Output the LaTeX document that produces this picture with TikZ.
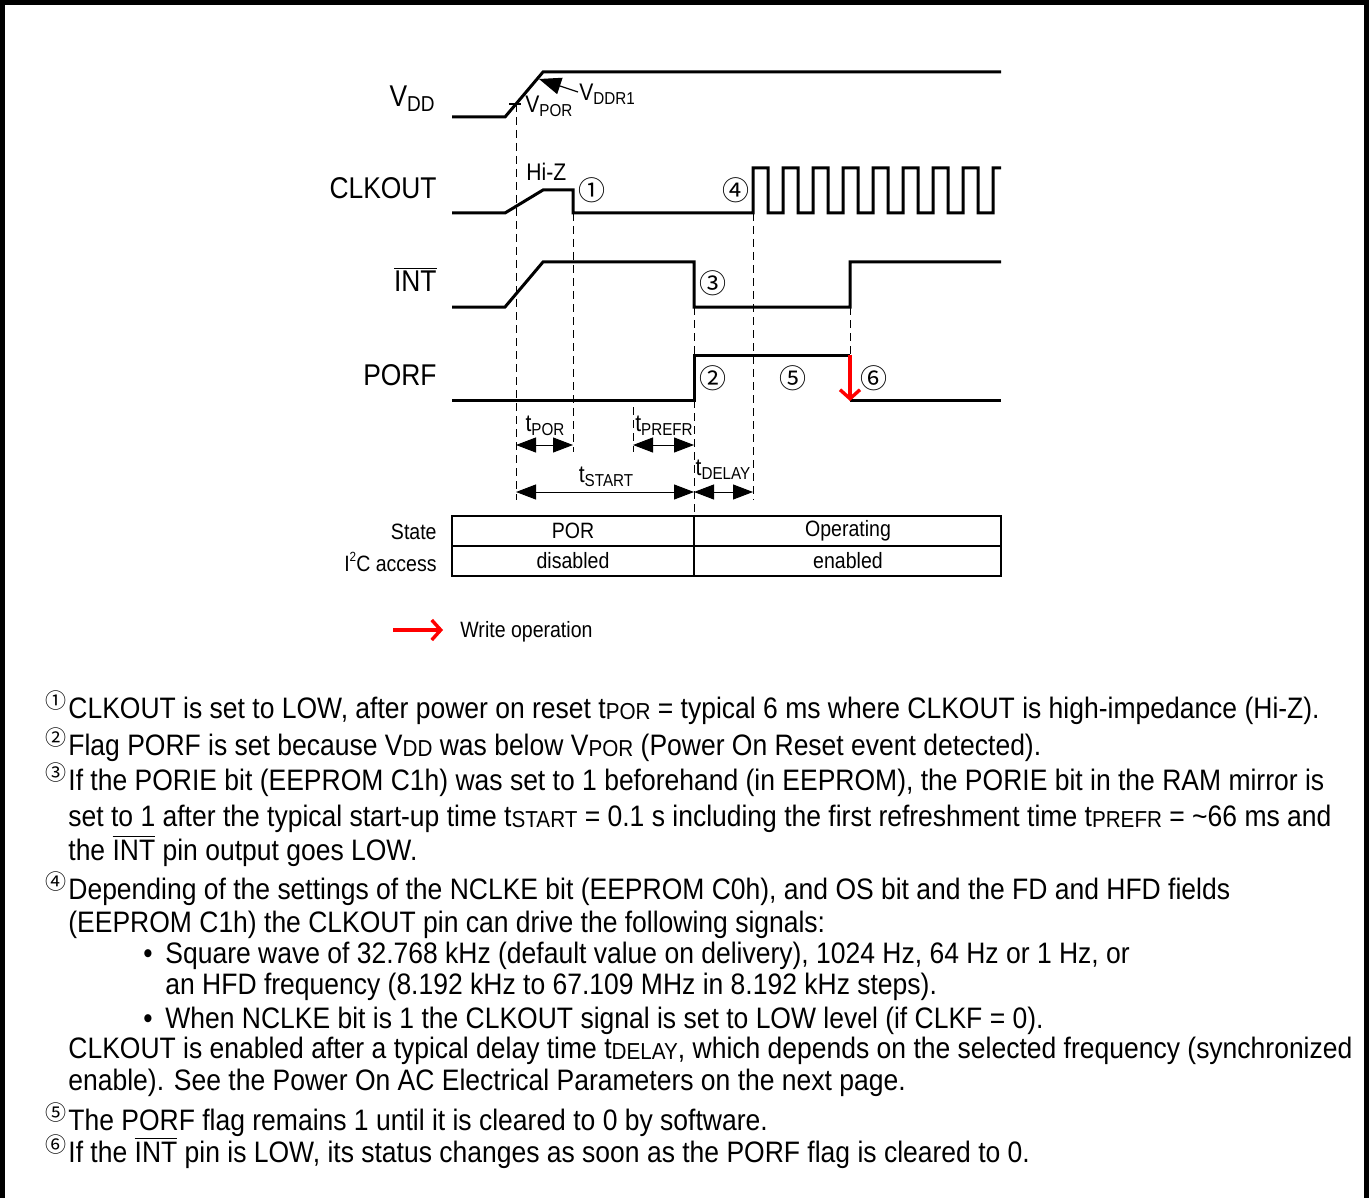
\documentclass[tikz,border=0pt]{standalone}
\usepackage{fontspec}
\setmainfont[FakeStretch=0.88]{Liberation Sans}
\newfontfamily\notefont[FakeStretch=0.895]{Liberation Sans}
\newfontfamily\circfont{Noto Sans CJK JP}
\usetikzlibrary{arrows.meta}
\newcommand\lsub[1]{\raisebox{-0.3ex}{\scalebox{0.72}{#1}}}
\newcommand\nsub[1]{\raisebox{-0.1ex}{\scalebox{0.78}{#1}}}
\newcommand\ovl[1]{$\overline{\mbox{#1}}$}
\tikzset{
  sig/.style={line width=1.5pt, line join=miter},
  dsh/.style={line width=0.5pt, dash pattern=on 4pt off 2.5pt},
  tarr/.style={line width=0.5pt, {Triangle[length=10pt,width=7.5pt]}-{Triangle[length=10pt,width=7.5pt]}},
  redarr/.style={red, line width=1.7pt, -{Straight Barb[length=4.5pt,width=10pt,line width=1.7pt]}},
  lbl/.style={inner sep=0pt, font=\fontsize{15}{18}\selectfont},
  smallt/.style={inner sep=0pt, font=\fontsize{12}{14}\selectfont},
  tbltxt/.style={inner sep=0pt, font=\fontsize{11.1}{13}\selectfont},
  cnum/.style={inner sep=0pt, font=\circfont\fontsize{13.5}{13.5}\selectfont},
  ncnum/.style={inner sep=0pt, font=\circfont\fontsize{10.5}{10.5}\selectfont},
  note/.style={inner sep=0pt, anchor=base west, font=\notefont\fontsize{14.8}{17}\selectfont},
}
\begin{document}
\begin{tikzpicture}[x=0.5pt,y=-0.5pt]
\useasboundingbox (0,0) rectangle (1370,1198);
% frame
\draw[line width=2.5pt] (2.5,1198) -- (2.5,2.5) -- (1366.5,2.5) -- (1366.5,1198);
% signal labels
\node[lbl, anchor=base east] (lvdd) at (435,107) {V\lsub{DD}};
\node[lbl, anchor=base east] (lclk) at (437,199) {CLKOUT};
\node[lbl, anchor=base east] (lint) at (437,292) {\ovl{INT}};
\node[lbl, anchor=base east] (lporf) at (437,385) {PORF};
% VDD
\draw[sig] (452,117) -- (505,117) -- (543,72) -- (1001,72);
\draw[line width=0.6pt] (509,104) -- (521,104);
\node[smallt, anchor=base west] (vpor) at (525,113) {V\lsub{POR}};
\node[smallt, anchor=base west] (vddr) at (579,101) {V\lsub{DDR1}};
\coordinate (vtip) at (539,79);
\draw[line width=0.6pt, -{Triangle[length=11pt,width=8.5pt]}] (578,92) -- (vtip);
% CLKOUT
\draw[sig] (452,213) -- (505,213) -- (543,190) -- (573,190) -- (573,213) -- (753,213)
  \foreach \i in {0,...,7} { -- ({753+30*\i},168) -- ({768+30*\i},168) -- ({768+30*\i},213) -- ({783+30*\i},213) }
  -- (993,168) -- (1001,168);
\node[smallt, anchor=base west] (hiz) at (526,181) {Hi-Z};
% INT
\draw[sig] (452,307) -- (505,307) -- (543,262) -- (694,262) -- (694,307) -- (850,307) -- (850,262) -- (1001,262);
% PORF
\draw[sig] (452,400) -- (694,400) -- (694,355) -- (850,355);
\draw[sig] (850,400) -- (1001,400);
\coordinate (pa) at (850,355);
\coordinate (pb) at (850,401);
\draw[redarr] (pa) -- (pb);
% dashed lines
\draw[dsh] (516,104) -- (516,500);
\draw[dsh] (573,213) -- (573,452);
\draw[dsh] (633,407) -- (633,452);
\draw[dsh] (694,307) -- (694,355);
\draw[dsh] (694,400) -- (694,516);
\draw[dsh] (753,213) -- (753,500);
\draw[dsh] (850,307) -- (850,355);
% circled numbers
\node[cnum] (c1) at (592,190) {①};
\node[cnum] (c4) at (736,190) {④};
\node[cnum] (c3) at (713,283) {③};
\node[cnum] (c2) at (713,378) {②};
\node[cnum] (c5) at (793,378) {⑤};
\node[cnum] (c6) at (874,378) {⑥};
% timing
\coordinate (a1) at (516,445); \coordinate (a2) at (573,445);
\coordinate (a3) at (633,445); \coordinate (a4) at (694,445);
\coordinate (b1) at (516,492); \coordinate (b2) at (694,492); \coordinate (b3) at (753,492);
\draw[tarr] (a1) -- (a2);
\draw[tarr] (a3) -- (a4);
\draw[tarr] (b1) -- (b2);
\draw[tarr] (b2) -- (b3);
\node[smallt] (ttpor) at (545,426) {t\lsub{POR}};
\node[smallt] (ttprefr) at (664,426) {t\lsub{PREFR}};
\node[smallt] (ttstart) at (606,477) {t\lsub{START}};
\node[smallt] (ttdelay) at (723,470) {t\lsub{DELAY}};
% table
\draw[line width=0.6pt] (452,516) rectangle (1001,576);
\draw[line width=0.6pt] (452,546) -- (1001,546);
\draw[line width=0.6pt] (694,516) -- (694,576);
\node[tbltxt, anchor=east] (tstate) at (437,532) {State};
\node[tbltxt, anchor=east] (ti2c) at (437,562) {I\raisebox{0.8ex}{\scalebox{0.6}{2}}C access};
\node[tbltxt] (tpor) at (573,531) {POR};
\node[tbltxt] (tdis) at (573,561) {disabled};
\node[tbltxt] (top) at (848,531) {Operating};
\node[tbltxt] (ten) at (848,561) {enabled};
% legend
\coordinate (l1) at (393,630); \coordinate (l2) at (443,630);
\draw[redarr] (l1) -- (l2);
\node[tbltxt, anchor=base west] (wop) at (460,637) {Write operation};
% notes
\node[ncnum] (n1) at (56,701) {①};
\node[note] (t1) at (68,718) {CLKOUT is set to LOW, after power on reset t\nsub{POR} = typical 6 ms where CLKOUT is high-impedance (Hi-Z).};
\node[ncnum] (n2) at (56,738) {②};
\node[note] (t2) at (68,755) {Flag PORF is set because V\nsub{DD} was below V\nsub{POR} (Power On Reset event detected).};
\node[ncnum] (n3) at (56,773) {③};
\node[note] (t3a) at (68,790) {If the PORIE bit (EEPROM C1h) was set to 1 beforehand (in EEPROM), the PORIE bit in the RAM mirror is};
\node[note] (t3b) at (68,826) {set to 1 after the typical start-up time t\nsub{START} = 0.1 s including the first refreshment time t\nsub{PREFR} = \textasciitilde 66 ms and};
\node[note] (t3c) at (68,860) {the \ovl{INT} pin output goes LOW.};
\node[ncnum] (n4) at (56,882) {④};
\node[note] (t4a) at (68,899) {Depending of the settings of the NCLKE bit (EEPROM C0h), and OS bit and the FD and HFD fields};
\node[note] (t4b) at (68,932) {(EEPROM C1h) the CLKOUT pin can drive the following signals:};
\node[note] (bu1) at (143,963) {•};
\node[note] (t4c) at (165,963) {Square wave of 32.768 kHz (default value on delivery), 1024 Hz, 64 Hz or 1 Hz, or};
\node[note] (t4d) at (165,994) {an HFD frequency (8.192 kHz to 67.109 MHz in 8.192 kHz steps).};
\node[note] (bu2) at (143,1028) {•};
\node[note] (t4e) at (165,1028) {When NCLKE bit is 1 the CLKOUT signal is set to LOW level (if CLKF = 0).};
\node[note] (t4f) at (68,1058) {CLKOUT is enabled after a typical delay time t\nsub{DELAY}, which depends on the selected frequency (synchronized};
\node[note] (t4g) at (68,1090) {enable). See the Power On AC Electrical Parameters on the next page.};
\node[ncnum] (n5) at (56,1113) {⑤};
\node[note] (t5) at (68,1130) {The PORF flag remains 1 until it is cleared to 0 by software.};
\node[ncnum] (n6) at (56,1145) {⑥};
\node[note] (t6) at (68,1162) {If the \ovl{INT} pin is LOW, its status changes as soon as the PORF flag is cleared to 0.};
\end{tikzpicture}
\end{document}
